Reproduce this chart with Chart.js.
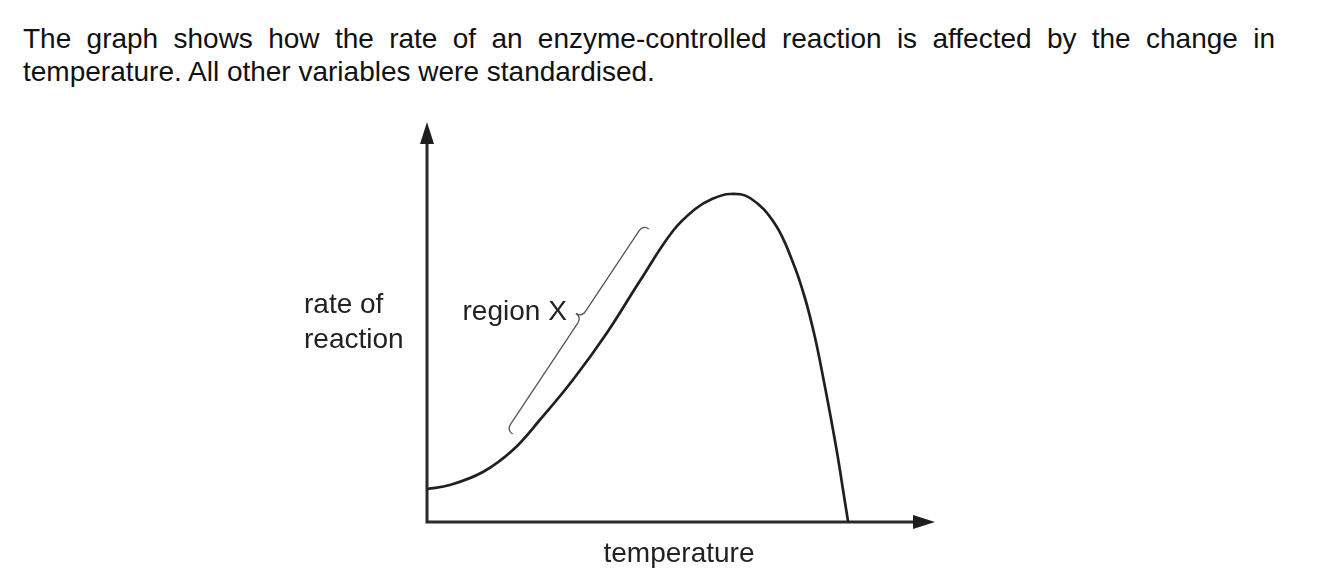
<!DOCTYPE html>
<html>
<head>
<meta charset="utf-8">
<script src="https://cdn.jsdelivr.net/npm/chart.js@4.4.1/dist/chart.umd.min.js"></script>
<style>
  html, body { margin: 0; padding: 0; background: #fff; }
  #wrap { position: relative; width: 1317px; height: 585px; overflow: hidden; }
  #question {
    position: absolute; left: 23px; top: 22px; width: 1252px;
    font-family: "Liberation Sans", Arial, sans-serif; font-size: 28px; line-height: 33px;
    color: #111; text-align: justify; text-align-last: left;
  }
  #chartBox { position: absolute; left: 0; top: 0; width: 1317px; height: 585px; }
</style>
</head>
<body>
<div id="wrap">
  <div id="question">The graph shows how the rate of an enzyme-controlled reaction is affected by the change in temperature. All other variables were standardised.</div>
  <div id="chartBox"><canvas id="rateChart"></canvas></div>
</div>
<script>
// values (arbitrary units, 0-100 on both axes)
const temperature = [0, 4.5, 11.0, 16.9, 22.2, 28.7, 35.4, 41.9, 48.4, 52.8, 56.1, 59.6, 63.6, 68.5, 72.0, 74.4, 76.4, 78.0, 79.5, 80.9, 81.9, 82.9];
const rate = [8.25, 9.25, 12.5, 18, 25.5, 35.5, 47.25, 60.25, 72.75, 78.25, 80.75, 82, 81, 74.5, 65, 56, 46, 36, 26, 16, 8, 0];

// bracket marking region X (temperature, rate)
const regionXStart = [15.7, 23];
const regionXEnd = [42.5, 74.25];
const regionXLabel = 'region X';

const xTitle = 'temperature';
const yTitle = ['rate of', 'reaction'];

const FONT = '"Liberation Sans", Arial, sans-serif';

function arrowHead(ctx, x, y, dx, dy) {
    // filled triangle pointing along (dx, dy)
    const len = 22, half = 7;
    const px = -dy, py = dx;
    ctx.beginPath();
    ctx.moveTo(x, y);
    ctx.lineTo(x - dx * len + px * half, y - dy * len + py * half);
    ctx.lineTo(x - dx * len - px * half, y - dy * len - py * half);
    ctx.closePath();
    ctx.fill();
}

const sketchPlugin = {
    id: 'sketch',
    beforeDatasetsDraw(chart) {
        const { ctx, chartArea } = chart;
        const { left, right, top, bottom } = chartArea;
        ctx.save();
        ctx.strokeStyle = '#2b2b2b';
        ctx.fillStyle = '#1e1e1e';
        ctx.lineWidth = 3;
        ctx.beginPath();
        ctx.moveTo(left, top + 16);
        ctx.lineTo(left, bottom);
        ctx.lineTo(right - 16, bottom);
        ctx.stroke();
        arrowHead(ctx, left, top, 0, -1);
        arrowHead(ctx, right, bottom, 1, 0);
        ctx.restore();
    },
    afterDraw(chart) {
        const { ctx, chartArea, scales } = chart;
        const xs = scales.x, ys = scales.y;
        ctx.save();

        // curly bracket beside the rising part of the curve
        const ax = xs.getPixelForValue(regionXStart[0]), ay = ys.getPixelForValue(regionXStart[1]);
        const bx = xs.getPixelForValue(regionXEnd[0]), by = ys.getPixelForValue(regionXEnd[1]);
        const L = Math.hypot(bx - ax, by - ay);
        const dx = (bx - ax) / L, dy = (by - ay) / L;
        const nx = -dy, ny = dx; // points toward the curve
        const w = 7;
        const mx = ax + (bx - ax) * 0.55, my = ay + (by - ay) * 0.55;
        ctx.strokeStyle = '#555';
        ctx.lineWidth = 1.3;
        ctx.beginPath();
        ctx.moveTo(ax + nx * w, ay + ny * w);
        ctx.quadraticCurveTo(ax, ay, ax + dx * w, ay + dy * w);
        ctx.lineTo(mx - dx * w, my - dy * w);
        ctx.quadraticCurveTo(mx, my, mx - nx * w, my - ny * w);
        ctx.quadraticCurveTo(mx, my, mx + dx * w, my + dy * w);
        ctx.lineTo(bx - dx * w, by - dy * w);
        ctx.quadraticCurveTo(bx, by, bx + nx * w, by + ny * w);
        ctx.stroke();

        ctx.fillStyle = '#222';
        ctx.font = '28px ' + FONT;
        ctx.textAlign = 'right';
        ctx.textBaseline = 'middle';
        ctx.fillText(regionXLabel, mx - nx * w - 9, my - ny * w - 1);

        // axis titles
        ctx.textBaseline = 'alphabetic';
        ctx.textAlign = 'left';
        ctx.fillText(yTitle[0], chartArea.left - 123, ys.getPixelForValue(52.25));
        ctx.fillText(yTitle[1], chartArea.left - 123, ys.getPixelForValue(43.5));
        ctx.textAlign = 'center';
        ctx.fillText(xTitle, (chartArea.left + chartArea.right) / 2 - 2, chartArea.bottom + 40);
        ctx.restore();
    }
};

new Chart(document.getElementById('rateChart'), {
    type: 'line',
    data: {
        datasets: [{
            data: temperature.map((t, i) => ({ x: t, y: rate[i] })),
            borderColor: '#1f1f1f',
            borderWidth: 2.7,
            pointRadius: 0,
            fill: false,
            tension: 0.4
        }]
    },
    options: {
        responsive: true,
        maintainAspectRatio: false,
        animation: false,
        events: [],
        layout: { padding: { left: 427, right: 382, top: 122, bottom: 63 } },
        plugins: { legend: { display: false }, tooltip: { enabled: false } },
        scales: {
            x: { type: 'linear', min: 0, max: 100, display: false },
            y: { type: 'linear', min: 0, max: 100, display: false }
        },
        elements: { line: { borderCapStyle: 'round' } }
    },
    plugins: [sketchPlugin]
});
</script>
</body>
</html>
